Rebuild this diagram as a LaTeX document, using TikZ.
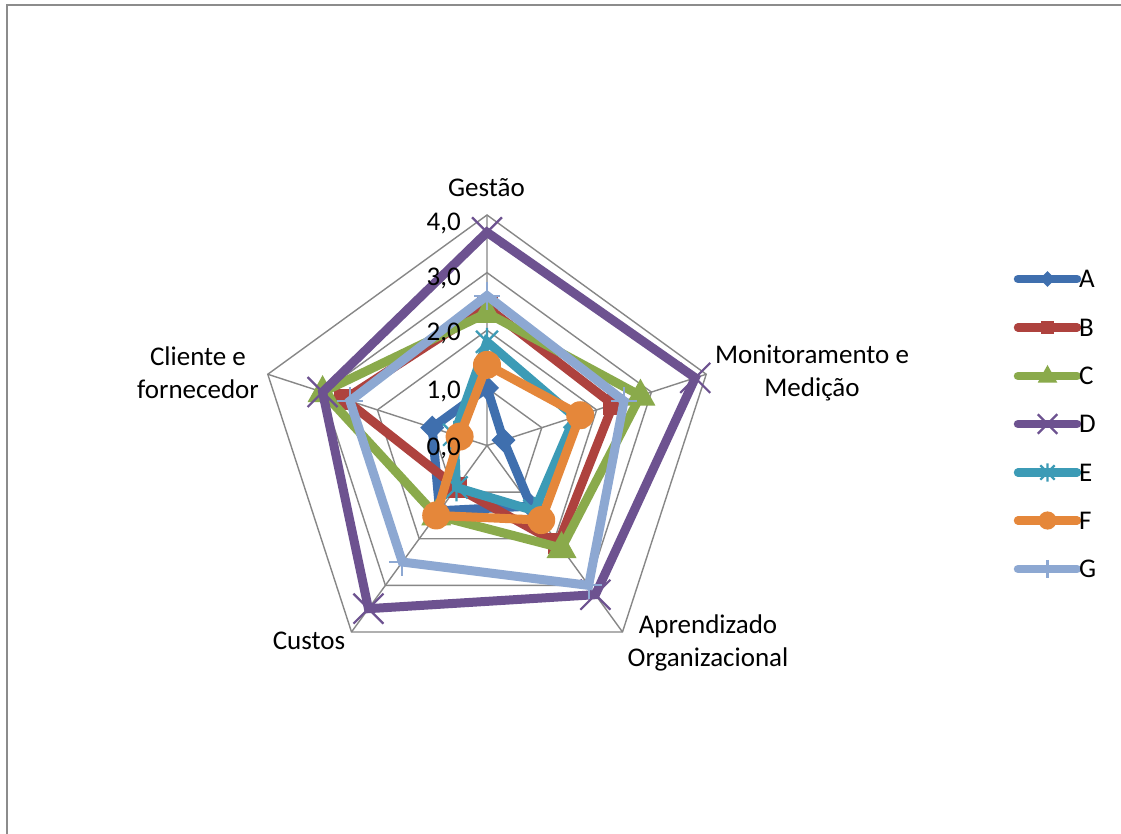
\documentclass[tikz,border=0pt]{standalone}
\usepackage{fontspec}
\setmainfont{Carlito}
\definecolor{cA}{HTML}{3F6FAE}
\definecolor{cB}{HTML}{AE423E}
\definecolor{cC}{HTML}{8AAA4B}
\definecolor{cD}{HTML}{6D5290}
\definecolor{cE}{HTML}{3C9BB6}
\definecolor{cF}{HTML}{E5873A}
\definecolor{cG}{HTML}{8DA8D2}
\definecolor{gridc}{HTML}{878787}
\definecolor{framec}{HTML}{8C8C8C}
% radar series: #1 colour, #2 marker pic, #3..#7 values
\newcommand\radarseries[7]{%
  \coordinate (#1p1) at ({487},{445.5-57.625*#3});
  \coordinate (#1p2) at ({487+57.625*#4*0.95106},{445.5-57.625*#4*0.30902});
  \coordinate (#1p3) at ({487+57.625*#5*0.58779},{445.5+57.625*#5*0.80902});
  \coordinate (#1p4) at ({487-57.625*#6*0.58779},{445.5+57.625*#6*0.80902});
  \coordinate (#1p5) at ({487-57.625*#7*0.95106},{445.5-57.625*#7*0.30902});
  \draw[serline,draw=#1] (#1p1) -- (#1p2) -- (#1p3) -- (#1p4) -- (#1p5) -- cycle;
  \pic[color=#1] at (#1p1) {#2};
  \pic[color=#1] at (#1p2) {#2};
  \pic[color=#1] at (#1p3) {#2};
  \pic[color=#1] at (#1p4) {#2};
  \pic[color=#1] at (#1p5) {#2};
}
% legend entry: #1 colour, #2 marker pic, #3 text, #4 y
\newcommand\legentry[4]{%
  \coordinate (L#3a) at (1018,#4);
  \coordinate (L#3b) at (1077,#4);
  \coordinate (L#3m) at (1047.5,#4);
  \draw[line width=8.5pt,line cap=round,draw=#1] (L#3a) -- (L#3b);
  \pic[color=#1,scale=0.65] at (L#3m) {#2};
  \node[lbl,anchor=west] (lab#3) at (1079,#4) {#3};
}
\begin{document}
\begin{tikzpicture}[x=1pt,y=-1pt,
  gridline/.style={draw=gridc,line width=1.4pt,line join=miter},
  serline/.style={line width=9pt,line join=miter},
  lbl/.style={font=\fontsize{27}{33}\selectfont,inner sep=0pt,align=center},
  ticklbl/.style={font=\fontsize{27}{33}\selectfont,inner sep=0pt,anchor=base east},
  mkdiamond/.pic={\fill (0,-12) -- (12,0) -- (0,12) -- (-12,0) -- cycle;},
  mksquare/.pic={\fill (-10.5,-10.5) rectangle (10.5,10.5);},
  mktri/.pic={\fill (0,-17) -- (15,10) -- (-15,10) -- cycle;},
  mkx/.pic={\draw[line width=2.2pt] (-15,-15) -- (15,15) (-15,15) -- (15,-15);},
  mkstar/.pic={\draw[line width=2.2pt] (-11,-11) -- (11,11) (-11,11) -- (11,-11) (0,-14) -- (0,14);},
  mkcirc/.pic={\fill (0,0) circle (14pt);},
  mkplus/.pic={\draw[line width=2.2pt] (-13,0) -- (13,0) (0,-14) -- (0,14);}
]
\useasboundingbox (0,0) rectangle (1121,834);
\fill[white] (0,0) rectangle (1121,834);
% frame
\draw[draw=framec,line width=2pt] (7,834) -- (7,5.5) -- (1121,5.5);

% grid
\coordinate (O) at (487,445.5);
\foreach \k in {1,2,3,4}{
  \draw[gridline] ({487},{445.5-57.625*\k})
   -- ({487+57.625*\k*0.95106},{445.5-57.625*\k*0.30902})
   -- ({487+57.625*\k*0.58779},{445.5+57.625*\k*0.80902})
   -- ({487-57.625*\k*0.58779},{445.5+57.625*\k*0.80902})
   -- ({487-57.625*\k*0.95106},{445.5-57.625*\k*0.30902}) -- cycle;
}
\coordinate (V1) at ({487},{445.5-230.5});
\coordinate (V2) at ({487+230.5*0.95106},{445.5-230.5*0.30902});
\coordinate (V3) at ({487+230.5*0.58779},{445.5+230.5*0.80902});
\coordinate (V4) at ({487-230.5*0.58779},{445.5+230.5*0.80902});
\coordinate (V5) at ({487-230.5*0.95106},{445.5-230.5*0.30902});
\draw[gridline] (O) -- (V1) (O) -- (V2) (O) -- (V3) (O) -- (V4) (O) -- (V5);

% axis labels
\node[lbl,anchor=base] (ax1) at (486.5,196.5) {Gestão};
\node[lbl] (ax2) at (812,373) {Monitoramento e\\Medição};
\node[lbl] (ax3) at (708,643) {Aprendizado\\Organizacional};
\node[lbl,anchor=base] (ax4) at (309,649) {Custos};
\node[lbl] (ax5) at (198,373) {Cliente e\\fornecedor};

% series
\radarseries{cA}{mkdiamond}{1.0}{0.3}{1.3}{1.4}{1.0}
\radarseries{cB}{mksquare}{2.4}{2.3}{2.1}{0.9}{2.6}
\radarseries{cC}{mktri}{2.3}{2.8}{2.2}{1.5}{3.0}
\radarseries{cD}{mkx}{3.7}{3.8}{3.2}{3.5}{3.0}
\radarseries{cE}{mkstar}{1.8}{1.6}{1.4}{0.9}{0.6}
\radarseries{cF}{mkcirc}{1.4}{1.7}{1.6}{1.5}{0.5}
\radarseries{cG}{mkplus}{2.6}{2.5}{3.0}{2.5}{2.5}

% tick labels (drawn above the series)
\node[ticklbl] (t4) at (461,231) {4,0};
\node[ticklbl] (t3) at (461,285) {3,0};
\node[ticklbl] (t2) at (461,340) {2,0};
\node[ticklbl] (t1) at (461,398) {1,0};
\node[ticklbl] (t0) at (461,455) {0,0};

% legend
\legentry{cA}{mkdiamond}{A}{279}
\legentry{cB}{mksquare}{B}{327.5}
\legentry{cC}{mktri}{C}{376}
\legentry{cD}{mkx}{D}{424}
\legentry{cE}{mkstar}{E}{472.5}
\legentry{cF}{mkcirc}{F}{520.5}
\legentry{cG}{mkplus}{G}{569}
\end{tikzpicture}
\end{document}
